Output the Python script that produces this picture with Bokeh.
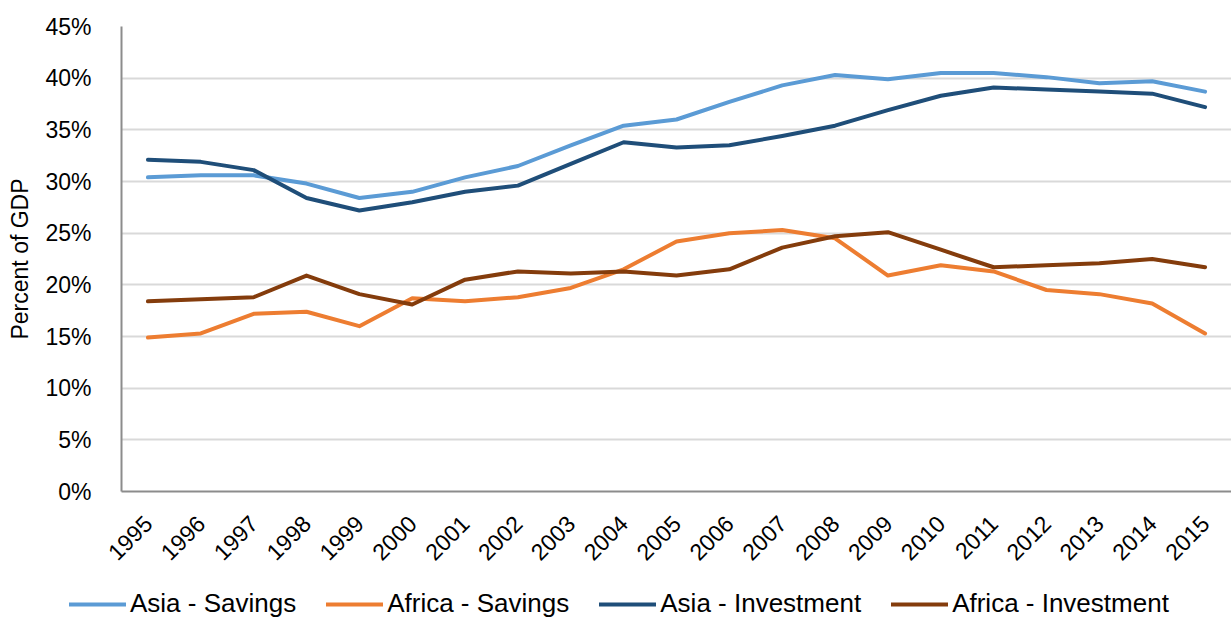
import math
from bokeh.plotting import figure
from bokeh.models import FactorRange, Range1d, Legend, LegendItem, FixedTicker, CustomJSTickFormatter
from bokeh.embed import file_html
from bokeh.resources import INLINE

years = [str(y) for y in range(1995, 2016)]
asia_savings = [30.4, 30.6, 30.6, 29.8, 28.4, 29.0, 30.4, 31.5, 33.5, 35.4, 36.0,
                37.7, 39.3, 40.3, 39.9, 40.5, 40.5, 40.1, 39.5, 39.7, 38.7]
africa_savings = [14.9, 15.3, 17.2, 17.4, 16.0, 18.7, 18.4, 18.8, 19.7, 21.5, 24.2,
                  25.0, 25.3, 24.5, 20.9, 21.9, 21.3, 19.5, 19.1, 18.2, 15.3]
asia_investment = [32.1, 31.9, 31.1, 28.4, 27.2, 28.0, 29.0, 29.6, 31.7, 33.8, 33.3,
                   33.5, 34.4, 35.4, 36.9, 38.3, 39.1, 38.9, 38.7, 38.5, 37.2]
africa_investment = [18.4, 18.6, 18.8, 20.9, 19.1, 18.1, 20.5, 21.3, 21.1, 21.3, 20.9,
                     21.5, 23.6, 24.7, 25.1, 23.4, 21.7, 21.9, 22.1, 22.5, 21.7]
y_ticks = [0, 5, 10, 15, 20, 25, 30, 35, 40, 45]

series = [
    ("Asia - Savings", asia_savings, "#5B9BD5"),
    ("Africa - Savings", africa_savings, "#ED7D31"),
    ("Asia - Investment", asia_investment, "#1F4E79"),
    ("Africa - Investment", africa_investment, "#843C0C"),
]

FONT = "Liberation Sans"

p = figure(x_range=FactorRange(factors=years, range_padding=0),
           y_range=Range1d(0, 45),
           frame_width=1110, frame_height=465,
           min_border_left=121, min_border_top=26, min_border_right=0, min_border_bottom=100,
           output_backend="svg", toolbar_location=None)
p.outline_line_color = None

for name, vals, color in series:
    p.line(years, vals, line_color=color, line_width=4, line_join="round", line_cap="round")

# axes
p.yaxis.ticker = FixedTicker(ticks=y_ticks)
p.yaxis.formatter = CustomJSTickFormatter(code="return tick + '%';")
p.yaxis.axis_label = "Percent of GDP"
for ax in (p.xaxis[0], p.yaxis[0]):
    ax.axis_line_color = "#8C8C8C"
    ax.axis_line_width = 2
    ax.major_tick_line_color = None
    ax.minor_tick_line_color = None
    ax.major_label_text_font = FONT
    ax.major_label_text_color = "#000000"
p.yaxis.major_label_text_font_size = "23px"
p.yaxis.major_label_standoff = 24
p.yaxis.axis_label_text_font = FONT
p.yaxis.axis_label_text_font_size = "23px"
p.yaxis.axis_label_text_font_style = "normal"
p.yaxis.axis_label_text_color = "#000000"
p.yaxis.axis_label_standoff = 9
p.xaxis.major_label_orientation = math.pi / 4
p.xaxis.major_label_text_font_size = "23px"
p.xaxis.major_label_standoff = 22

p.xgrid.grid_line_color = None
p.ygrid.grid_line_color = "#D9D9D9"
p.ygrid.grid_line_width = 2
p.ygrid.ticker = FixedTicker(ticks=y_ticks)

# legend strip below the chart (separate root so its frame is not aligned to the chart's)
lg = figure(width=1231, height=29, x_range=FactorRange(factors=years), y_range=Range1d(100, 101),
            x_axis_type=None, y_axis_type=None, min_border=0,
            output_backend="svg", toolbar_location=None)
lg.outline_line_color = None
lg.xgrid.grid_line_color = None
lg.ygrid.grid_line_color = None
items = []
for name, vals, color in series:
    r = lg.line(years, vals, line_color=color, line_width=4, line_cap="round")
    items.append(LegendItem(label=name, renderers=[r]))

legend = Legend(items=items, orientation="horizontal", location=(69, 1),
                label_text_font=FONT, label_text_font_size="26px", label_text_color="#000000",
                glyph_width=57, glyph_height=26, label_height=26, label_standoff=4, spacing=30,
                padding=0, margin=0, border_line_color=None, background_fill_alpha=0)
lg.add_layout(legend, "center")

open("out.html", "w").write(file_html([p, lg], INLINE))
